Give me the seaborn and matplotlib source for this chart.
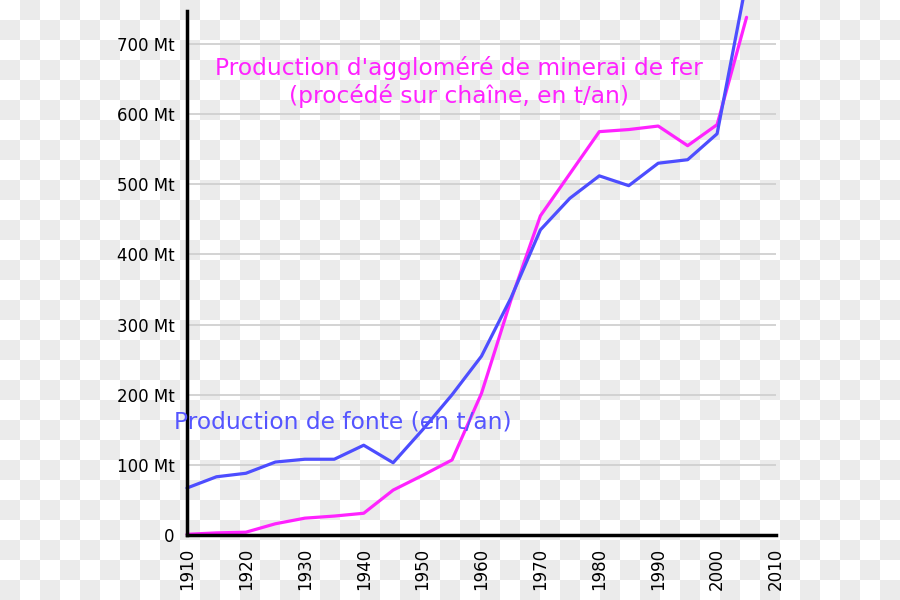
import numpy as np
import pandas as pd
import matplotlib
matplotlib.use("Agg")
import matplotlib.pyplot as plt
import seaborn as sns

years = [1910, 1915, 1920, 1925, 1930, 1935, 1940, 1945, 1950, 1955,
         1960, 1965, 1970, 1975, 1980, 1985, 1990, 1995, 2000, 2005]
fonte = [67, 83, 88, 104, 108, 108, 128, 103, 150, 200,
         255, 338, 435, 480, 512, 498, 530, 535, 572, 790]
agglo = [1, 3, 4, 16, 24, 27, 31, 64, 85, 107,
         202, 335, 455, 515, 575, 578, 583, 555, 585, 738]

label_fonte = "Production de fonte (en t/an)"
label_agglo = "Production d'aggloméré de minerai de fer\n(procédé sur chaîne, en t/an)"
xticks = list(range(1910, 2011, 10))
yticks = list(range(0, 701, 100))
ytick_labels = ["0"] + [f"{v} Mt" for v in yticks[1:]]

c_blue = "#4d4dff"
c_mag = "#ff22ff"

df = pd.DataFrame({
    "année": years * 2,
    "valeur": fonte + agglo,
    "série": ["fonte"] * len(years) + ["agglo"] * len(years),
})

sns.set_style("white")
plt.rcParams["font.family"] = ["DejaVu Sans"]

fig = plt.figure(figsize=(9, 6), dpi=100)
# checkerboard background
H, W = 600, 900
yy, xx = np.mgrid[0:H, 0:W]
chk = ((xx // 20 + yy // 20) % 2).astype(float)
bg = np.where(chk[..., None] == 1, np.array([0.922, 0.922, 0.922]), np.array([1.0, 1.0, 1.0]))
fig.figimage(bg, xo=0, yo=0, origin="upper", zorder=-10)
fig.patch.set_alpha(0)

ax = fig.add_axes([187 / 900, 1 - 535 / 600, (776 - 187) / 900, (535 - 11) / 600])
ax.set_facecolor("none")

sns.lineplot(data=df, x="année", y="valeur", hue="série",
             palette={"fonte": c_blue, "agglo": c_mag},
             hue_order=["agglo", "fonte"],
             linewidth=2.3, legend=False, ax=ax)
for ln in ax.get_lines():
    ln.set_clip_on(False)

ax.set_xlim(1910, 2010)
ax.set_ylim(0, 747)
ax.set_xticks(xticks)
ax.set_xticklabels([str(x) for x in xticks], rotation=90, fontsize=12, color="black")
ax.set_yticks(yticks)
ax.set_yticklabels(ytick_labels, fontsize=12, color="black")
ax.set_xlabel("")
ax.set_ylabel("")

for v in yticks[1:]:
    ax.axhline(v, color="#d0d0d0", linewidth=1.3, zorder=0)

for s in ["top", "right"]:
    ax.spines[s].set_visible(False)
for s in ["left", "bottom"]:
    ax.spines[s].set_color("black")
    ax.spines[s].set_linewidth(2.5)
ax.tick_params(axis="both", direction="out", length=6, width=2, color="black", pad=3)

ax.text(1956.2, 646, label_agglo, color=c_mag, fontsize=16.8, ha="center", va="center",
        linespacing=1.2)
ax.text(1907.8, 161, label_fonte, color="#5555ff", fontsize=16.8, ha="left", va="center")

fig.savefig("out.png", dpi=100, transparent=False)
